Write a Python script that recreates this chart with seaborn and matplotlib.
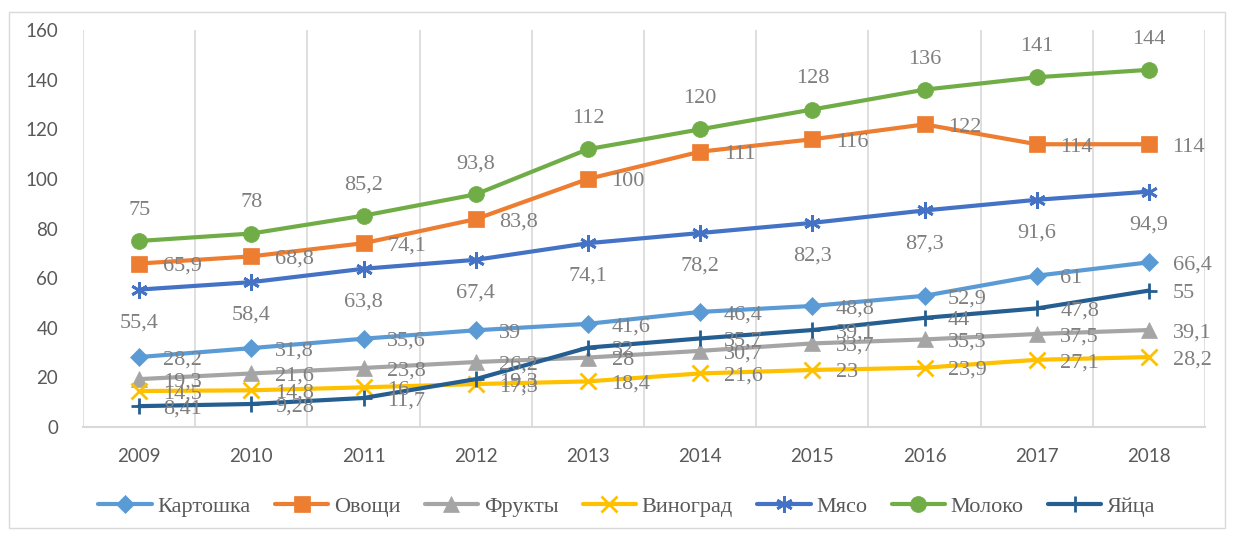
import matplotlib
matplotlib.use('Agg')
import matplotlib.pyplot as plt
import matplotlib.patches as patches
import seaborn as sns

# data
years = [2009, 2010, 2011, 2012, 2013, 2014, 2015, 2016, 2017, 2018]
kartoshka = [28.2, 31.8, 35.6, 39, 41.6, 46.4, 48.8, 52.9, 61, 66.4]
ovoshchi = [65.9, 68.8, 74.1, 83.8, 100, 111, 116, 122, 114, 114]
frukty = [19.3, 21.6, 23.8, 26.2, 28, 30.7, 33.7, 35.3, 37.5, 39.1]
vinograd = [14.5, 14.8, 16, 17.3, 18.4, 21.6, 23, 23.9, 27.1, 28.2]
myaso = [55.4, 58.4, 63.8, 67.4, 74.1, 78.2, 82.3, 87.3, 91.6, 94.9]
moloko = [75, 78, 85.2, 93.8, 112, 120, 128, 136, 141, 144]
yaytsa = [8.41, 9.28, 11.7, 19.3, 32, 35.7, 39.1, 44, 47.8, 55]

names = ['Картошка', 'Овощи', 'Фрукты', 'Виноград', 'Мясо', 'Молоко', 'Яйца']
series = [kartoshka, ovoshchi, frukty, vinograd, myaso, moloko, yaytsa]
colors = ['#5B9BD5', '#ED7D31', '#A5A5A5', '#FFC000', '#4472C4', '#70AD47', '#255E91']
markers = ['D', 's', '^', 'x', (6, 2, 0), 'o', '+']
msizes = [9, 11, 11, 11, 12, 11.5, 12]
# where the data labels sit: right, above or below the point
label_pos = ['right', 'right', 'right', 'right', 'below', 'above', 'right']

sns.set_style('white')
plt.rcParams['font.family'] = ['Liberation Serif', 'DejaVu Sans']

fig = plt.figure(figsize=(12.34, 5.38), dpi=100)
ax = fig.add_axes([0.0673, 0.2063, 0.9092, 0.7377])

# light frame round the whole chart
fig.patches.append(patches.Rectangle((0.007, 0.018), 0.986, 0.96, transform=fig.transFigure,
                                     fill=False, edgecolor='#D9D9D9', linewidth=1))

for name, vals, c, m, ms in zip(names, series, colors, markers, msizes):
    sns.lineplot(x=years, y=vals, ax=ax, color=c, marker=m, markersize=ms, linewidth=3,
                 markeredgecolor=c, markeredgewidth=2 if m in ('x', '+', (6, 2, 0)) else 0.5,
                 label=name)

for vals, pos in zip(series, label_pos):
    for x, v in zip(years, vals):
        txt = f'{v:g}'.replace('.', ',')
        if pos == 'right':
            off, ha, va = (17, -2), 'left', 'center'
        elif pos == 'above':
            off, ha, va = (0, 22), 'center', 'center'
        else:
            off, ha, va = (0, -24), 'center', 'center'
        ax.annotate(txt, (x, v), xytext=off, textcoords='offset points', ha=ha, va=va,
                    fontsize=16, color='#7F7F7F', family='Liberation Serif', zorder=5)

ax.set_xlim(2008.5, 2018.5)
ax.set_ylim(0, 160)
ax.set_xticks(years)
ax.set_xticklabels([str(y) for y in years], family='Lato', fontsize=13.5, color='#595959')
ax.set_xticks([y + 0.5 for y in [2008] + years], minor=True)
ax.set_yticks(range(0, 161, 20))
ax.set_yticklabels([str(v) for v in range(0, 161, 20)], family='Lato', fontsize=13.5, color='#595959')
ax.tick_params(axis='x', which='both', length=0, pad=15)
ax.tick_params(axis='y', length=0, pad=18)
ax.grid(False)
ax.grid(True, axis='x', which='minor', color='#D9D9D9', linewidth=1.2)
ax.set_xlabel('')
ax.set_ylabel('')
for s in ['top', 'left', 'right']:
    ax.spines[s].set_visible(False)
ax.spines['bottom'].set_color('#D9D9D9')
ax.spines['bottom'].set_linewidth(1.5)

handles, labels = ax.get_legend_handles_labels()
ax.get_legend().remove()
leg = fig.legend(handles, labels, loc='center', bbox_to_anchor=(0.508, 0.058), ncol=7,
                 frameon=False, prop={'family': 'Liberation Serif', 'size': 16},
                 handlelength=2.4, columnspacing=1.1, handletextpad=0.25)
for t in leg.get_texts():
    t.set_color('#595959')

fig.savefig('out.png', dpi=100)
